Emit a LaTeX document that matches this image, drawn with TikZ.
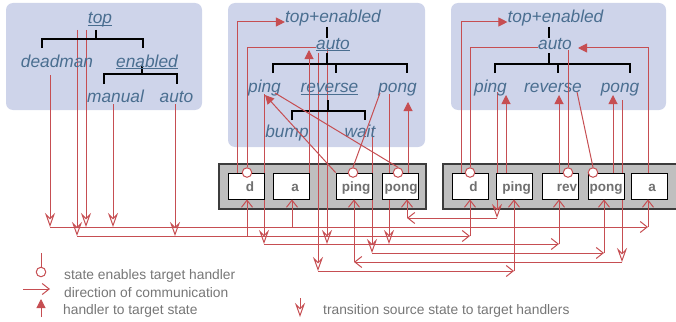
\documentclass[tikz,border=0pt]{standalone}
\usepackage{fontspec}
\setmainfont{Liberation Sans}
\usetikzlibrary{arrows.meta}
\definecolor{panelc}{RGB}{206,212,234}
\definecolor{stc}{RGB}{74,110,144}
\definecolor{wire}{RGB}{198,78,82}
\definecolor{grpc}{RGB}{191,191,191}
\definecolor{grpb}{RGB}{60,60,60}
\definecolor{hlc}{RGB}{112,112,112}
\definecolor{legc}{RGB}{118,118,118}
\newcommand\ulin[1]{\setbox0\hbox{#1}\rlap{\rule[-2.2pt]{\wd0}{0.9pt}}\box0}
\tikzset{
  panel/.style={fill=panelc, rounded corners=7pt},
  st/.style={text=stc, font=\fontsize{17.3}{20}\selectfont\itshape, inner sep=0pt, anchor=base},
  tree/.style={draw=black, line width=2.6pt},
  grp/.style={fill=grpc, draw=grpb, line width=1.3pt},
  hbox/.style={fill=white, draw=black, line width=0.9pt, minimum width=36pt, minimum height=26pt, inner sep=0pt},
  hlab/.style={text=hlc, font=\fontsize{13.5}{16}\selectfont\bfseries, inner sep=0pt, anchor=base},
  leg/.style={text=legc, font=\fontsize{13.8}{16}\selectfont, inner sep=0pt, anchor=base west},
  w/.style={draw=wire, line width=1pt},
  trw/.style={w, -{Stealth[open, length=14pt, width=10pt, inset=5pt]}},
  cmw/.style={w, -{Straight Barb[length=7pt, width=11pt]}},
  hsw/.style={w, -{Triangle[length=9pt, width=9pt]}},
  enc/.style={circle, draw=wire, fill=white, line width=1pt, minimum size=9.5pt, inner sep=0pt},
}
\begin{document}
\begin{tikzpicture}[x=1pt, y=-1pt]
\useasboundingbox (0,0) rectangle (676,321);
% panels
\fill[panel] (6,3) rectangle (202,110);
\fill[panel] (228,3) rectangle (425,147);
\fill[panel] (451,3) rectangle (666,110);
% handler groups
\draw[grp] (219,164) rectangle (426,209);
\draw[grp] (443,164) rectangle (680,209);
% bus coordinates
\coordinate (yA) at (0,227);
\coordinate (yB) at (0,236);
\coordinate (yC) at (0,244);
\coordinate (yD) at (0,253);
\coordinate (yE) at (0,262);
\coordinate (yF) at (0,271);
\coordinate (yG) at (0,218);
% transitions from source states
\draw[trw] (50,75) -- (50,0 |- yA);
\draw[trw] (86,30) -- (86,0 |- yA);
\draw[trw] (113,104) -- (113,0 |- yA);
\draw[trw] (77,30) -- (77,0 |- yB);
\draw[trw] (175,104) -- (175,0 |- yB);
\draw[trw] (264,94) -- (264,0 |- yC);
\draw[trw] (327,49) -- (327,0 |- yC);
\draw[trw] (389,94) -- (389,0 |- yC);
\draw[trw] (372,128) -- (372,0 |- yD);
\draw[trw] (318,53) -- (318,0 |- yF);
\draw[trw] (497,92) -- (497,0 |- yG);
\draw[trw] (622,100) -- (622,0 |- yE);
% buses
\draw[cmw] (50,0 |- yA) -- (648,0 |- yA);
\draw[cmw] (77,0 |- yB) -- (470,0 |- yB);
\draw[cmw] (264,0 |- yC) -- (559,0 |- yC);
\draw[cmw] (372,0 |- yD) -- (604,0 |- yD);
\draw[cmw] (622,0 |- yE) -- (354,0 |- yE);
\draw[cmw] (318,0 |- yF) -- (514,0 |- yF);
\draw[cmw] (497,0 |- yG) -- (407,0 |- yG);
% boxes
\node[hbox] (d1) at (246,186) {};
\node[hbox] (a1) at (291,186) {};
\node[hbox] (ping1) at (354,186) {};
\node[hbox] (pong1) at (400,186) {};
\node[hbox] (d2) at (470,186) {};
\node[hbox] (ping2) at (514.5,186) {};
\node[hbox] (rev2) at (560,186) {};
\node[hbox] (pong2) at (606,186) {};
\node[hbox] (a2) at (649,186) {};
\node[hlab] (d1t) at (250,191.5) {d};
\node[hlab] (a1t) at (295,191.5) {a};
\node[hlab] (ping1t) at (356,191.5) {ping};
\node[hlab] (pong1t) at (401,191.5) {pong};
\node[hlab] (d2t) at (473.5,191.5) {d};
\node[hlab] (ping2t) at (516.5,191.5) {ping};
\node[hlab] (rev2t) at (567,191.5) {rev};
\node[hlab] (pong2t) at (606,191.5) {pong};
\node[hlab] (a2t) at (652,191.5) {a};
% bus to handlers
\draw[cmw] (648,0 |- yA) -- (648,0 |- a2.south);
\draw[cmw] (292,0 |- yA) -- (292,0 |- a1.south);
\draw[cmw] (470,0 |- yB) -- (470,0 |- d2.south);
\draw[cmw] (247,0 |- yB) -- (247,0 |- d1.south);
\draw[cmw] (559,0 |- yC) -- (559,0 |- rev2.south);
\draw[cmw] (604,0 |- yD) -- (604,0 |- pong2.south);
\draw[cmw] (354,0 |- yE) -- (354,0 |- ping1.south);
\draw[cmw] (514,0 |- yF) -- (514,0 |- ping2.south);
\draw[cmw] (407,0 |- yG) -- (407,0 |- pong1.south);
% trees
\draw[tree] (96,30) -- (96,39);
\draw[tree] (42,48) -- (42,39) -- (143,39) -- (143,48);
\draw[tree] (142,66) -- (142,74);
\draw[tree] (104,84) -- (104,74) -- (177,74) -- (177,84);
\draw[tree] (327,27) -- (327,38);
\draw[tree] (327,53) -- (327,64);
\draw[tree] (273,73) -- (273,64) -- (407,64) -- (407,73);
\draw[tree] (336,64) -- (336,73);
\draw[tree] (328,100) -- (328,111);
\draw[tree] (292,120) -- (292,111) -- (365,111) -- (365,120);
\draw[tree] (549,27) -- (549,38);
\draw[tree] (549,53) -- (549,64);
\draw[tree] (495,73) -- (495,64) -- (630,64) -- (630,73);
\draw[tree] (558,64) -- (558,73);
% states
\node[st] (p1top) at (100,24) {\ulin{top}};
\node[st] (p1dead) at (57,67) {deadman};
\node[st] (p1en) at (147,67) {\ulin{enabled}};
\node[st] (p1man) at (115.5,102) {manual};
\node[st] (p1auto) at (176.5,102) {auto};
\node[st] (s2te) at (333,23) {top+enabled};
\node[st] (s2auto) at (333,49) {\ulin{auto}};
\node[st] (s2ping) at (264.5,92.7) {ping};
\node[st] (s2rev) at (329.5,92.7) {\ulin{reverse}};
\node[st] (s2pong) at (397.5,92.7) {pong};
\node[st] (s2bump) at (287,137) {bump};
\node[st] (s2wait) at (360,137) {wait};
\node[st] (s3te) at (555.5,23) {top+enabled};
\node[st] (s3auto) at (555,49) {auto};
\node[st] (s3ping) at (490.5,92.7) {ping};
\node[st] (s3rev) at (553,92.7) {reverse};
\node[st] (s3pong) at (620,92.7) {pong};
% handler to target state
\draw[hsw] (237,0 |- d1.north) |- ([yshift=1pt]s2te.base west);
\draw[hsw] (309,0 |- a1.north) -- (309,50);
\draw[hsw] (ping1.north west) -- (265,95);
\draw[hsw] (408,0 |- pong1.north) -- (408,102);
\draw[hsw] (461,0 |- d2.north) |- ([yshift=1pt]s3te.base west);
\draw[hsw] (506,0 |- ping2.north) -- (506,95);
\draw[hsw] (559,0 |- rev2.north) -- (559,95);
\draw[hsw] (613,0 |- pong2.north) -- (613,95);
\draw[hsw] (648,0 |- a2.north) |- (578,48);
% state enables handler
\node[enc] (cd1) at (247,0 |- d1.north) {};
\node[enc] (cping1) at (353,0 |- ping1.north) {};
\node[enc] (cpong1) at (398,0 |- pong1.north) {};
\node[enc] (cd2) at (470,0 |- d2.north) {};
\node[enc] (crev2) at (568,0 |- rev2.north) {};
\node[enc] (cpong2) at (593,0 |- pong2.north) {};
\draw[w] (cd1.north) |- ([yshift=1pt]s2auto.base west);
\draw[w] (cpong1.north) -- (275,93);
\draw[w] (cping1.north) -- (380,93);
\draw[w] (cd2.north) |- ([yshift=1pt]s3auto.base west);
\draw[w] (crev2.north) -- (568,50);
\draw[w] (cpong2.north) -- (577,92);
% legend
\node[enc] (legc) at (41,272) {};
\draw[w] (41,253) -- (legc.north);
\draw[cmw] (23,289) -- (50,289);
\draw[hsw] (41,317) -- (41,299);
\draw[trw] (300,298) -- (300,317);
\node[leg] (lt1) at (64,279) {state enables target handler};
\node[leg] (lt2) at (64,297) {direction of communication};
\node[leg] (lt3) at (63,314) {handler to target state};
\node[leg] (lt4) at (323,314) {transition source state to target handlers};
\end{tikzpicture}
\end{document}
